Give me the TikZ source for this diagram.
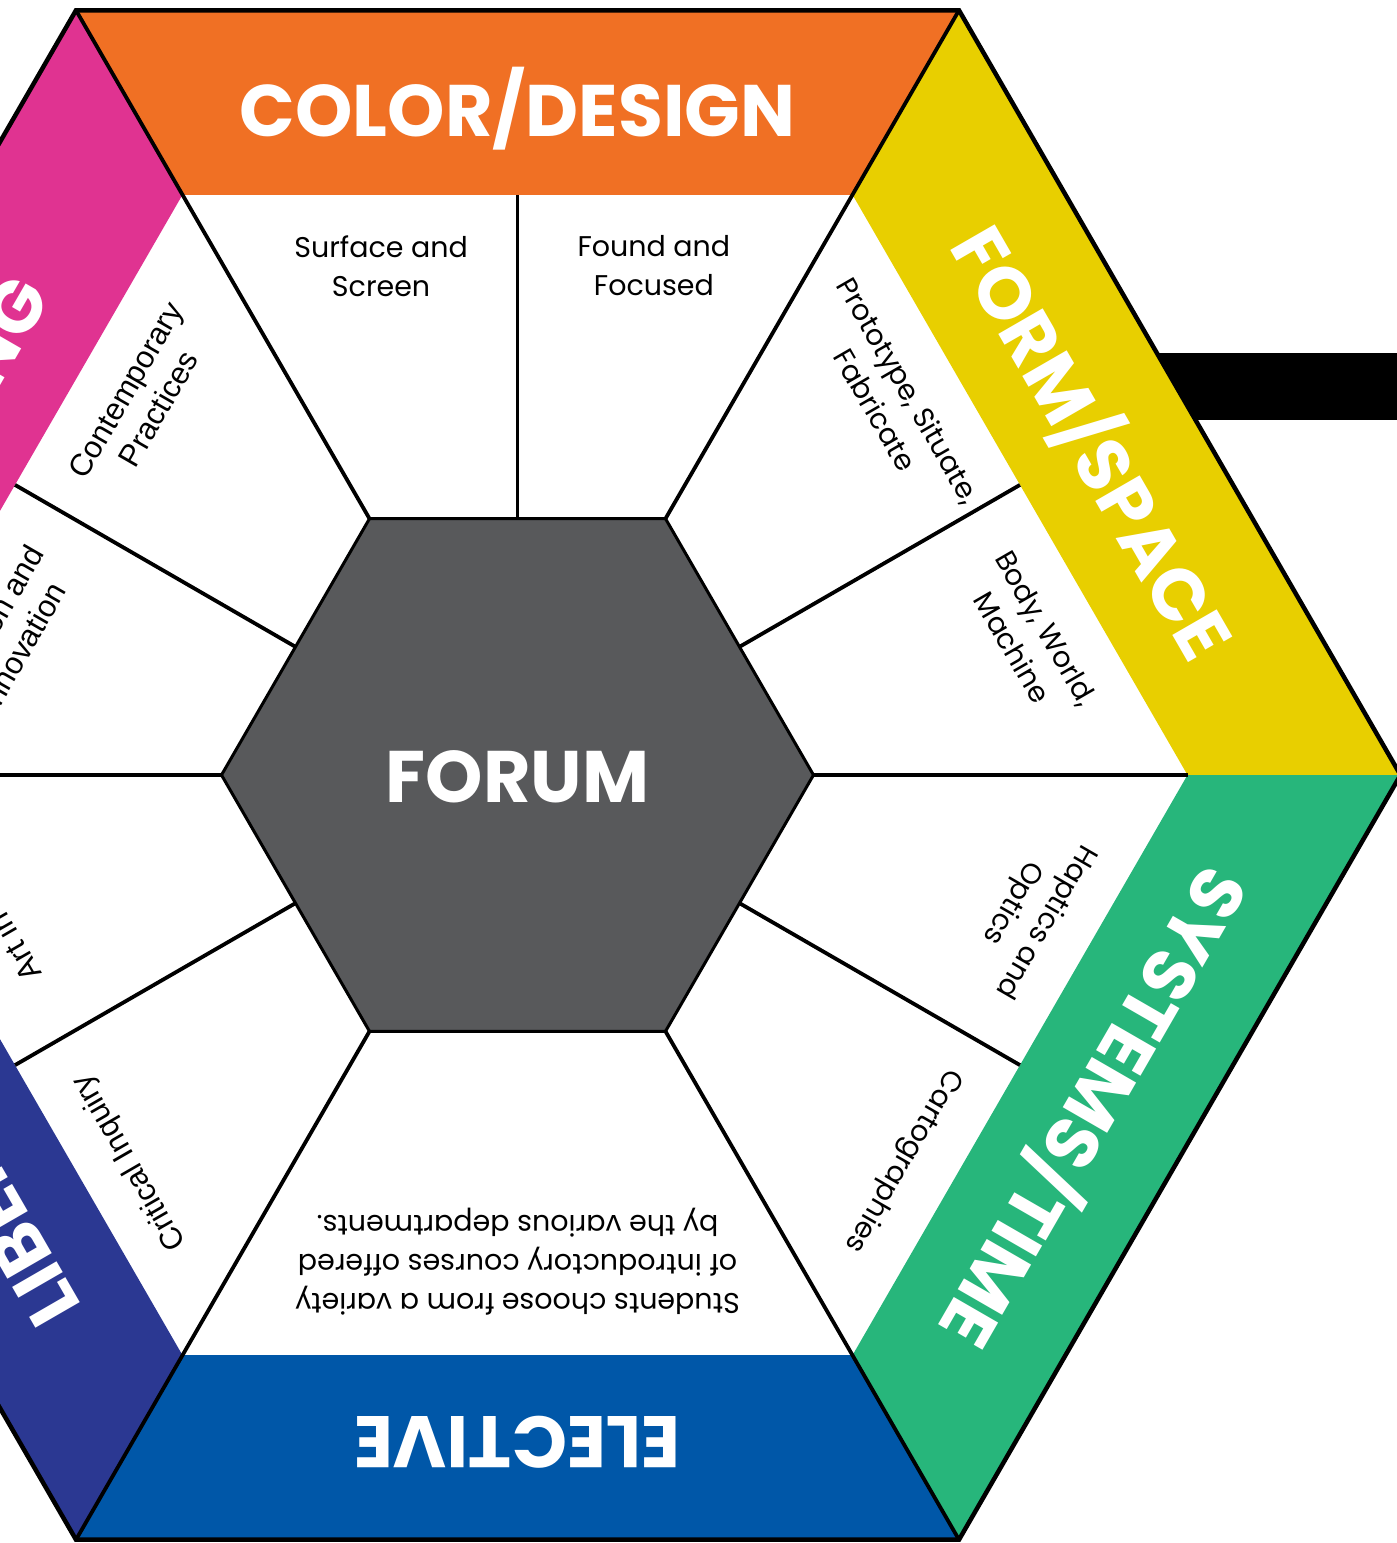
\documentclass[tikz,border=0pt]{standalone}
\usepackage{fontspec}
\setmainfont{Poppins}
\newfontfamily\helv{Liberation Sans}
\usetikzlibrary{positioning}
\definecolor{orangeband}{HTML}{F07024}
\definecolor{yellowband}{HTML}{E8CF00}
\definecolor{greenband}{HTML}{27B67B}
\definecolor{blueband}{HTML}{0057A8}
\definecolor{indigoband}{HTML}{2B3892}
\definecolor{pinkband}{HTML}{E03391}
\definecolor{forumgray}{HTML}{58595B}

\begin{document}
\begin{tikzpicture}[x=1pt,y=1pt,
  title/.style={text=white,inner sep=0pt,font=\fontsize{73}{80}\selectfont\bfseries},
  course/.style={align=center,inner sep=0pt,font=\fontsize{28.5}{39}\selectfont},
  coursehv/.style={align=center,inner sep=0pt,font=\helv\fontsize{31}{38}\selectfont},
  spoke/.style={line width=3.8pt}]
%cadre
\useasboundingbox (-517.5,-768) rectangle (879.5,775);
\clip (-517.5,-768) rectangle (879.5,775);
%sommets
\foreach \a [count=\i] in {0,60,...,300}
  {\coordinate (o\i) at (\a:883);
   \coordinate (n\i) at (\a:670);
   \coordinate (g\i) at (\a:296);
   \coordinate (gm\i) at (\a+30:256.3);
   \coordinate (nm\i) at (\a+30:580.2);}
%barre
\fill[black] (600,355) rectangle (880,422);
%bandes
\fill[yellowband] (o1) -- (o2) -- (n2) -- (n1) -- cycle;
\fill[orangeband] (o2) -- (o3) -- (n3) -- (n2) -- cycle;
\fill[pinkband] (o3) -- (o4) -- (n4) -- (n3) -- cycle;
\fill[indigoband] (o4) -- (o5) -- (n5) -- (n4) -- cycle;
\fill[blueband] (o5) -- (o6) -- (n6) -- (n5) -- cycle;
\fill[greenband] (o6) -- (o1) -- (n1) -- (n6) -- cycle;
\draw[line width=4.5pt] (o1) -- (o2) -- (o3) -- (o4) -- (o5) -- (o6) -- cycle;
%rayons
\draw[spoke] (o2) -- (g2);
\draw[spoke] (o3) -- (g3);
\draw[spoke] (o5) -- (g5);
\draw[spoke] (o6) -- (g6);
\draw[spoke] (n1) -- (g1);
\draw[spoke] (n4) -- (g4);
\foreach \i in {1,2,3,4,6}
  \draw[spoke] (gm\i) -- (nm\i);
%forum
\draw[fill=forumgray,line width=3pt] (g1) -- (g2) -- (g3) -- (g4) -- (g5) -- (g6) -- cycle;
\node[title] (forum) at (0,-2) {FORUM};
%titres
\node[title] (colordesign) at (90:666) {COLOR/DESIGN};
\node[title,rotate=-60] (formspace) at (30:665) {FORM/SPACE};
\node[title,rotate=-120] (systemstime) at (-30:667) {SYSTEMS/TIME};
\node[title,rotate=180] (elective) at (-90:667) {ELECTIVE};
\node[title,rotate=120] (liberal) at (210:668) {LIBERAL ARTS};
\node[title,rotate=60] (drawing) at (150:668) {DRAWING};
%cours
\node[course] (surface) at (105:527) {Surface and\\Screen};
\node[course] (found) at (75:527) {Found and\\Focused};
\node[course,rotate=-60] (prototype) at (45:530) {Prototype, Situate,\\Fabricate};
\node[course,rotate=-60] (body) at (15:530) {Body, World,\\Machine};
\node[course,rotate=-120] (haptics) at (-15:529) {Haptics and\\Optics};
\node[course,rotate=-120] (carto) at (-45:545) {Cartographies};
\node[course,rotate=180] (students) at (-90:487) {Students choose from a variety\\of introductory courses offered\\by the various departments.};
\node[coursehv,rotate=120] (critical) at (225:548) {Critical Inquiry};
\node[coursehv,rotate=120] (artin) at (-531.6,-122.8) {Art in Context};
\node[coursehv,rotate=60] (invention) at (165:530) {Invention and\\Innovation};
\node[coursehv,rotate=60] (contemporary) at (135:531) {Contemporary\\Practices};
\end{tikzpicture}
\end{document}
